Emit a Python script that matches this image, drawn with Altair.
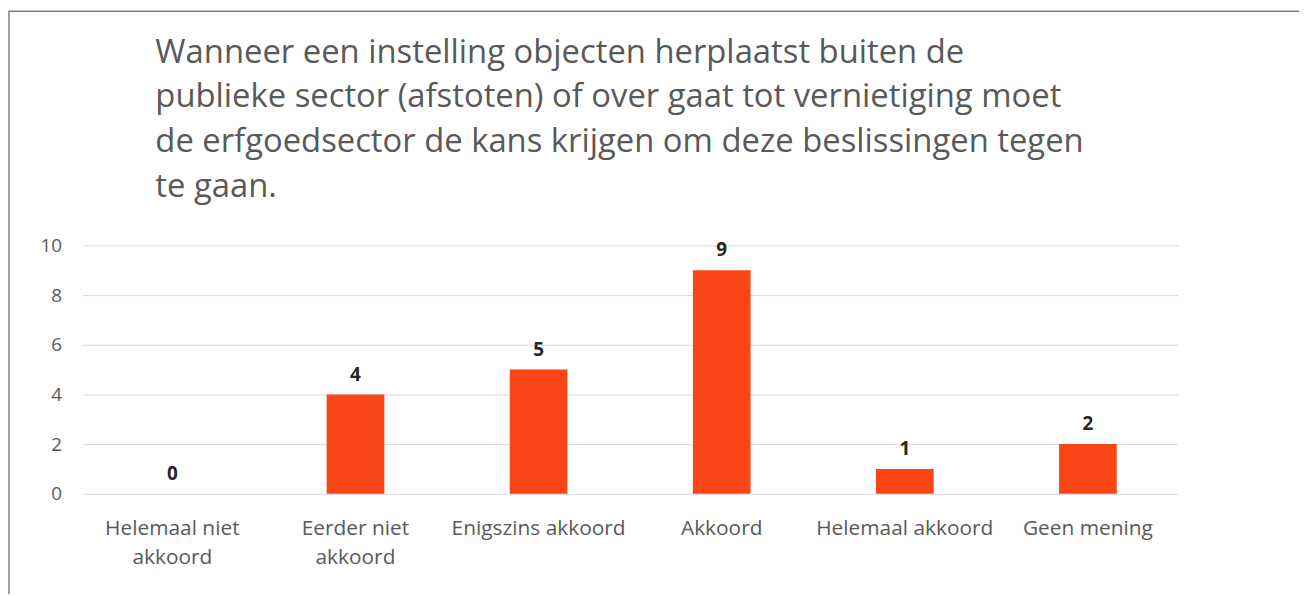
import altair as alt
import pandas as pd

categories = ["Helemaal niet akkoord", "Eerder niet akkoord", "Enigszins akkoord",
              "Akkoord", "Helemaal akkoord", "Geen mening"]
counts = [0, 4, 5, 9, 1, 2]
wrapped = {"Helemaal niet akkoord": ["Helemaal niet", "akkoord"],
           "Eerder niet akkoord": ["Eerder niet", "akkoord"]}
title_lines = ["Wanneer een instelling objecten herplaatst buiten de",
               "publieke sector (afstoten) of over gaat tot vernietiging moet",
               "de erfgoedsector de kans krijgen om deze beslissingen tegen",
               "te gaan."]
y_ticks = [0, 2, 4, 6, 8, 10]

df = pd.DataFrame({"cat": categories, "n": counts})

label_expr = "".join(
    f"datum.value == '{k}' ? {v!r} : " for k, v in wrapped.items()
) + "datum.value"

FONT = "Open Sans"
W, H = 1102, 250
PL, PT, PR, PB = 75, 237, 122, 101

base = alt.Chart(df).encode(
    x=alt.X("cat:N", sort=categories, title=None,
            scale=alt.Scale(paddingInner=0.685, paddingOuter=0.333),
            axis=alt.Axis(labelAngle=0, labelExpr=label_expr, labelFont=FONT,
                          labelFontSize=21, labelColor="#595959", labelPadding=24,
                          labelLineHeight=29, labelBaseline="top",
                          domain=False, ticks=False, grid=False)),
    y=alt.Y("n:Q", title=None,
            scale=alt.Scale(domain=[0, 10], nice=False),
            axis=alt.Axis(values=y_ticks, labelFont=FONT, labelFontSize=19,
                          labelColor="#595959", labelPadding=21, domain=False,
                          ticks=False, grid=True, gridColor="#D9D9D9",
                          gridWidth=1)),
)

bars = base.mark_bar(color="#FA4616")
labels = base.mark_text(baseline="alphabetic", dy=-14, font=FONT, fontSize=19,
                        fontWeight="bold", color="#262626").encode(text="n:Q")

frame_df = pd.DataFrame({"k": [0]})
left_edge = alt.Chart(frame_df).mark_rule(color="#7F7F7F", strokeWidth=1.5).encode(
    x=alt.value(-PL + 1), y=alt.value(-PT + 1), y2=alt.value(H + PB))
top_edge = alt.Chart(frame_df).mark_rule(color="#7F7F7F", strokeWidth=1.5).encode(
    x=alt.value(-PL + 1), x2=alt.value(W + PR), y=alt.value(-PT + 1.5))

chart = alt.layer(bars, labels, left_edge, top_edge).properties(
    width=W, height=H,
    autosize=alt.AutoSizeParams(type="none"),
    padding={"left": PL, "top": PT, "right": PR, "bottom": PB},
    title=alt.TitleParams(text=title_lines, anchor="start", dx=148, offset=0,
                          dy=221, baseline="alphabetic",
                          font=FONT, fontSize=33, fontWeight="normal",
                          color="#595959", lineHeight=45),
).configure_view(stroke=None)

chart.save("out.html", embed_options={"renderer": "svg", "actions": False})
